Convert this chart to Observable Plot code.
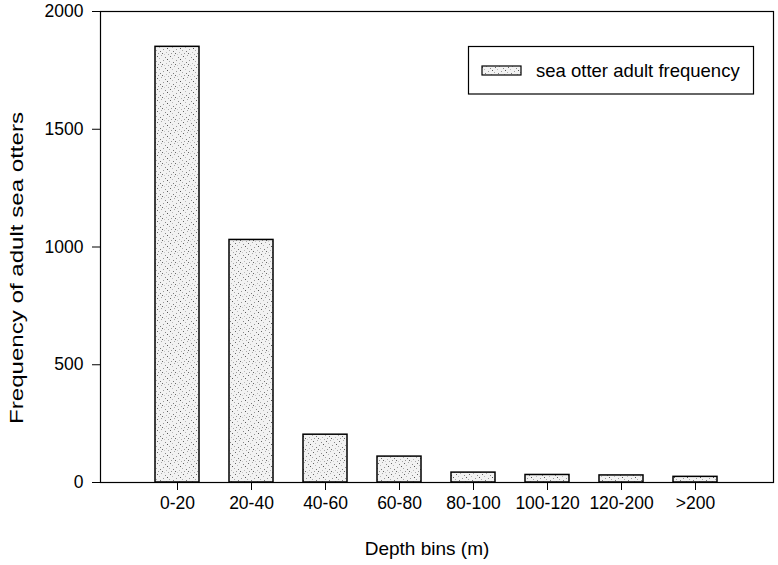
<!DOCTYPE html>
<html>
<head>
<meta charset="utf-8">
<script src="https://cdn.jsdelivr.net/npm/d3@7"></script>
<script src="https://cdn.jsdelivr.net/npm/@observablehq/plot@0.6"></script>
<style>
  body { margin: 0; background: white; }
  #chart svg { display: block; }
</style>
</head>
<body>
<svg width="0" height="0" style="position:absolute">
  <defs>
    <pattern id="stipple" width="13" height="11" patternUnits="userSpaceOnUse">
      <rect width="13" height="11" fill="#f2f2f2"></rect>
      <rect x="1" y="1" width="1" height="1" fill="#666"></rect>
      <rect x="5" y="0" width="1" height="1" fill="#aaa"></rect>
      <rect x="9" y="2" width="1" height="1" fill="#888"></rect>
      <rect x="3" y="3" width="1" height="1" fill="#bbb"></rect>
      <rect x="11" y="4" width="1" height="1" fill="#555"></rect>
      <rect x="7" y="5" width="1" height="1" fill="#999"></rect>
      <rect x="0" y="6" width="1" height="1" fill="#aaa"></rect>
      <rect x="4" y="7" width="1" height="1" fill="#777"></rect>
      <rect x="10" y="8" width="1" height="1" fill="#bbb"></rect>
      <rect x="2" y="9" width="1" height="1" fill="#999"></rect>
      <rect x="6" y="9" width="1" height="1" fill="#666"></rect>
      <rect x="12" y="10" width="1" height="1" fill="#aaa"></rect>
      <rect x="8" y="10" width="1" height="1" fill="#ccc"></rect>
    </pattern>
  </defs>
</svg>
<div id="chart"></div>
<script>
const categories = ["0-20", "20-40", "40-60", "60-80", "80-100", "100-120", "120-200", ">200"];
const frequencies = [1850, 1030, 203, 110, 42, 32, 30, 24];
const yTicks = [0, 500, 1000, 1500, 2000];
const xTitle = "Depth bins (m)";
const yTitle = "Frequency of adult sea otters";
const seriesName = "sea otter adult frequency";

const data = categories.map((c, i) => ({bin: c, freq: frequencies[i]}));

const fontFamily = "'Liberation Sans', Arial, sans-serif";

const chart = Plot.plot({
  width: 778,
  height: 565,
  marginLeft: 100,
  marginRight: 5,
  marginTop: 11,
  marginBottom: 83,
  style: {fontFamily, fontSize: "17.5px", color: "black", background: "white"},
  x: {domain: categories, paddingInner: 0.4, paddingOuter: 0.7, label: null, tickSize: 8, tickPadding: 6},
  y: {domain: [0, 2000], ticks: yTicks, tickFormat: "d", label: null, tickSize: 8, tickPadding: 9},
  marks: [
    Plot.barY(data, {x: "bin", y: "freq", fill: "url(#stipple)", stroke: "black", strokeWidth: 1.5}),
    Plot.frame({stroke: "black", strokeWidth: 1.2})
  ]
});

document.getElementById("chart").appendChild(chart);

const svg = d3.select(chart);

// axis titles
svg.append("text")
  .attr("x", 427).attr("y", 555)
  .attr("text-anchor", "middle")
  .attr("font-size", 19).attr("font-family", fontFamily).attr("fill", "black")
  .text(xTitle);

svg.append("text")
  .attr("transform", "translate(23,268) rotate(-90)")
  .attr("text-anchor", "middle")
  .attr("font-size", 19).attr("font-family", fontFamily).attr("fill", "black")
  .attr("textLength", 312).attr("lengthAdjust", "spacingAndGlyphs")
  .text(yTitle);

// legend
const lg = svg.append("g");
lg.append("rect").attr("x", 468.5).attr("y", 46.5).attr("width", 285).attr("height", 47.5)
  .attr("fill", "white").attr("stroke", "black").attr("stroke-width", 1.2);
lg.append("rect").attr("x", 482).attr("y", 66).attr("width", 39).attr("height", 9)
  .attr("fill", "url(#stipple)").attr("stroke", "black").attr("stroke-width", 1.2);
lg.append("text").attr("x", 536).attr("y", 77)
  .attr("text-anchor", "start")
  .attr("font-size", 18.5).attr("font-family", fontFamily).attr("fill", "black")
  .text(seriesName);
</script>
</body>
</html>
